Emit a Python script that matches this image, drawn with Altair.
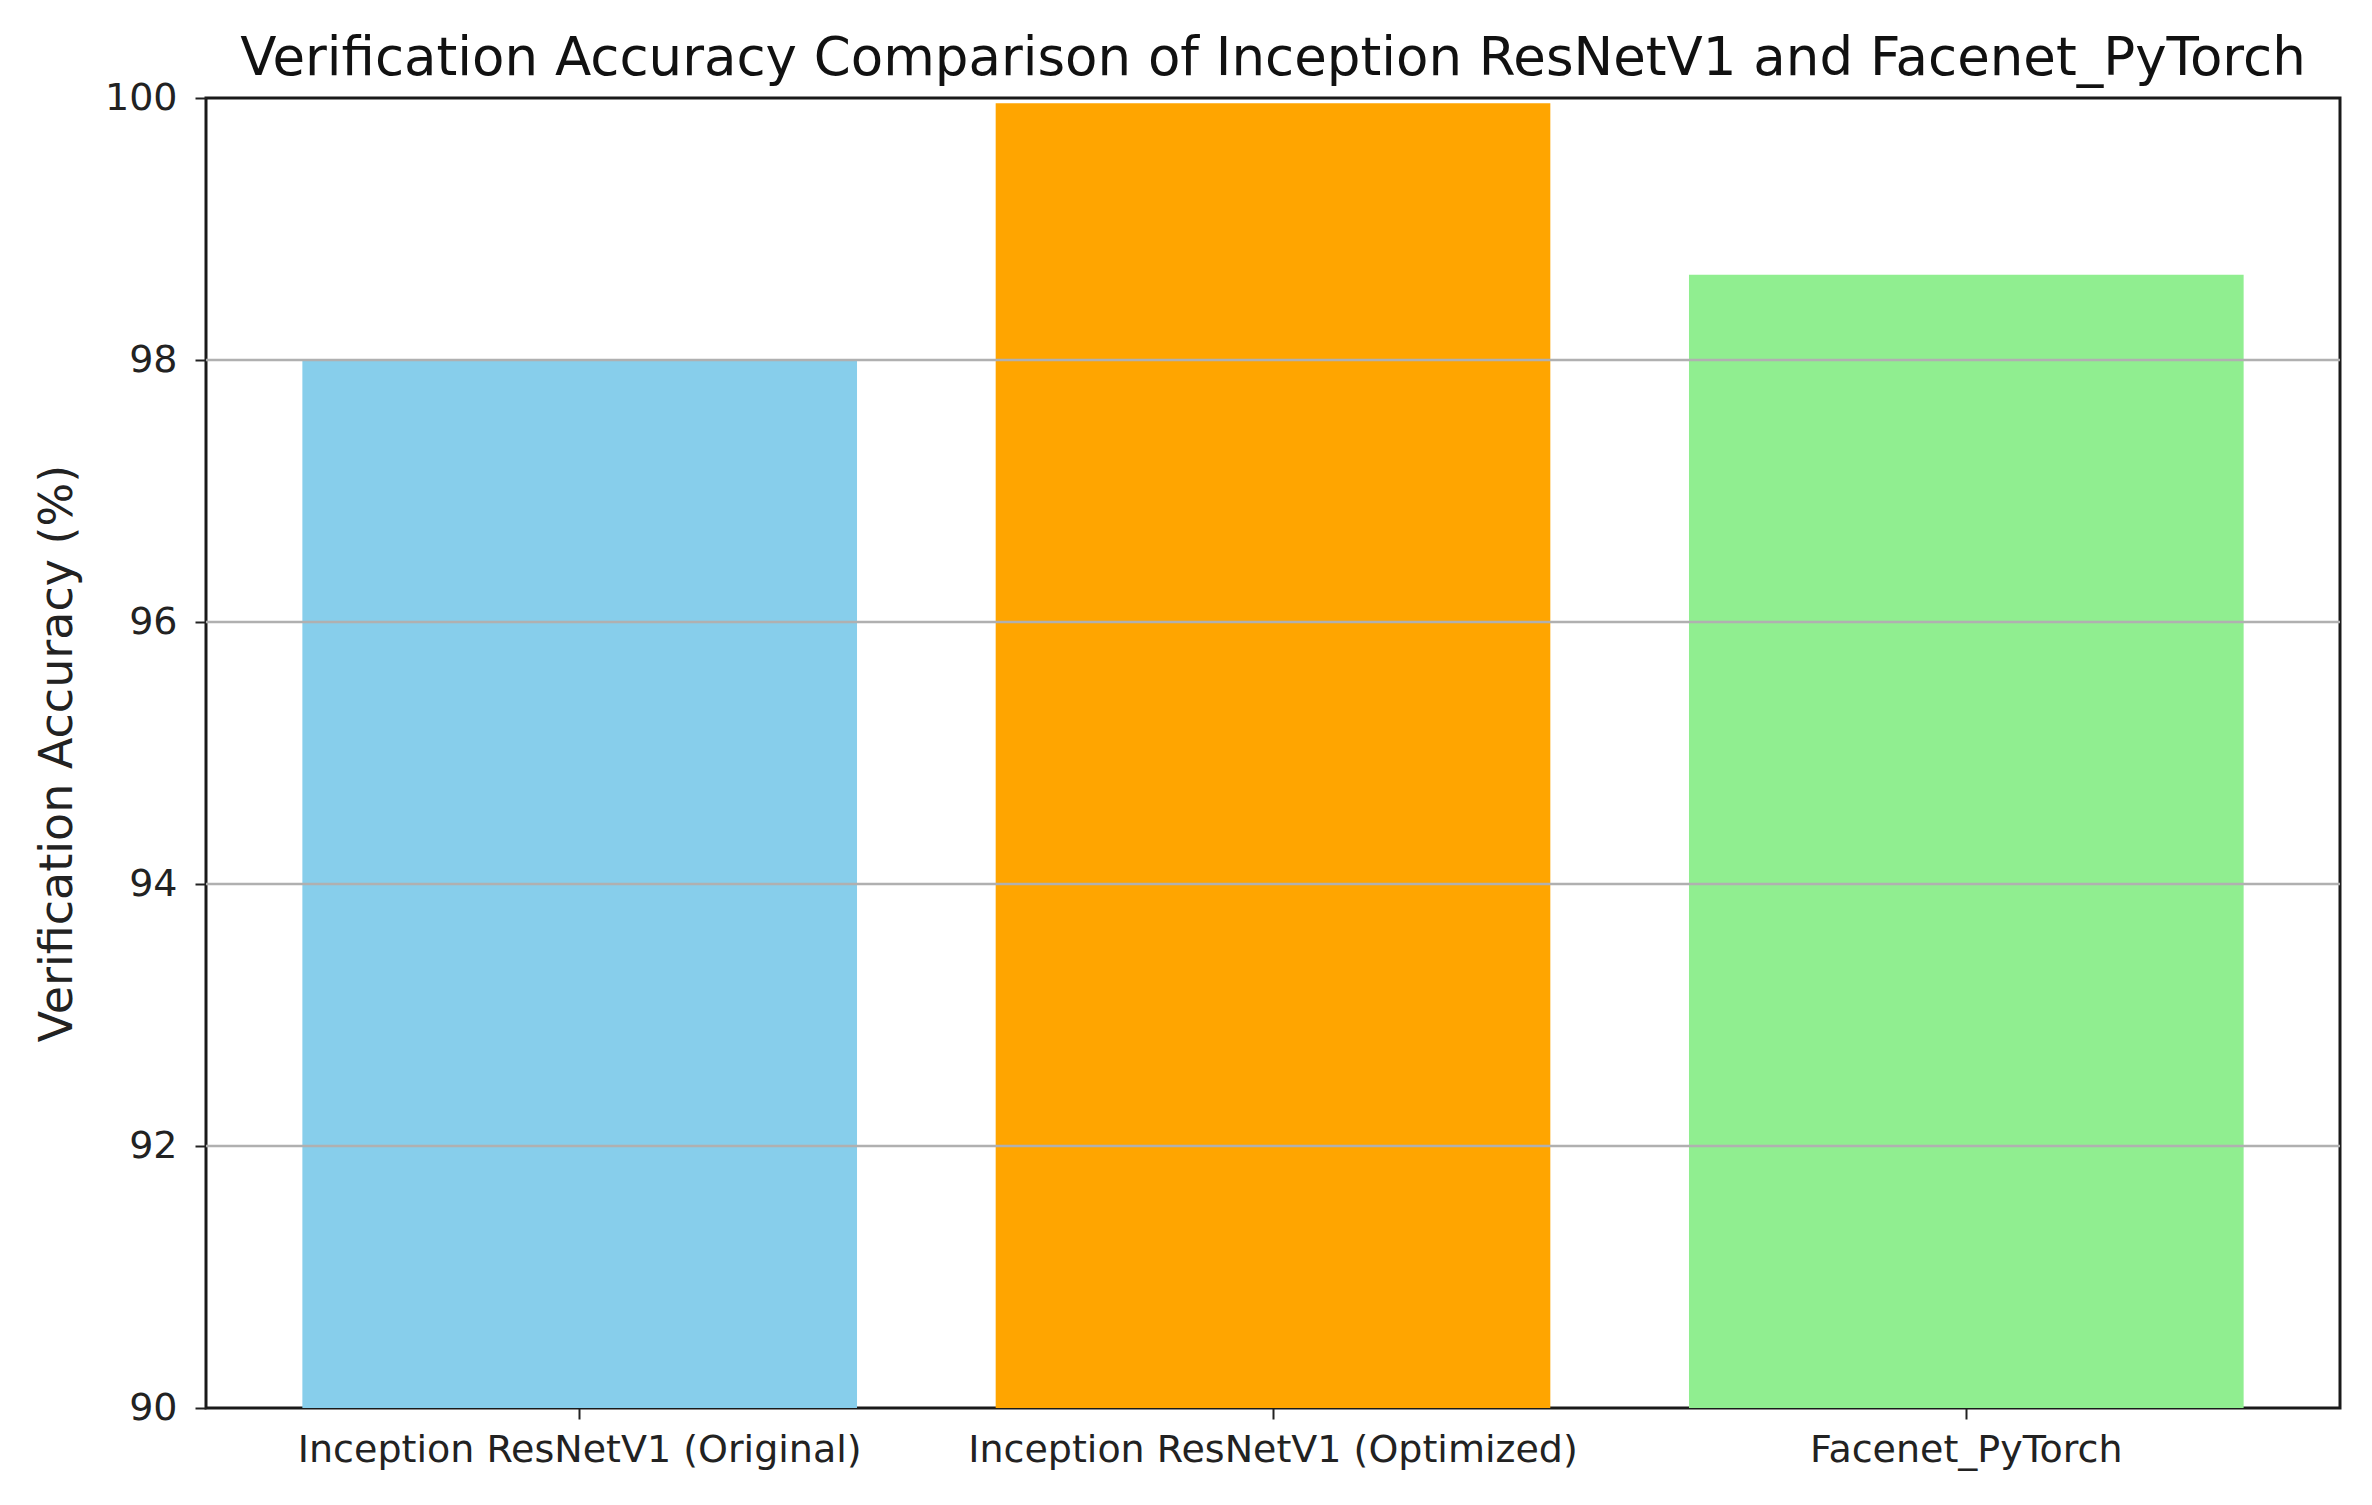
import altair as alt
import pandas as pd

models = ["Inception ResNetV1 (Original)", "Inception ResNetV1 (Optimized)", "Facenet_PyTorch"]
accuracy = [98.0, 99.96, 98.65]
colors = ["#87CEEB", "#FFA500", "#90EE90"]
y_ticks = [90, 92, 94, 96, 98, 100]
grid_lines = [92, 94, 96, 98]

df = pd.DataFrame({"model": models, "accuracy": accuracy})
grid_df = pd.DataFrame({"tick": grid_lines})

font = "DejaVu Sans"

bars = alt.Chart(df).mark_bar(clip=True).encode(
    x=alt.X("model:N", sort=models,
            scale=alt.Scale(paddingInner=0.2, paddingOuter=0.139),
            axis=alt.Axis(title=None, labelAngle=0, labelFont=font, labelFontSize=38,
                          labelLimit=0, labelColor="#222", tickColor="#222", tickSize=11,
                          tickWidth=2, labelPadding=12, domain=False, grid=False)),
    y=alt.Y("accuracy:Q",
            scale=alt.Scale(domain=[90, 100], zero=False, nice=False),
            axis=alt.Axis(title="Verification Accuracy (%)", values=y_ticks, format="d",
                          titleFont=font, titleFontSize=46, titleFontWeight="normal",
                          titleColor="#222", titleX=-149, titleBaseline="middle",
                          labelFont=font, labelFontSize=38, labelColor="#222",
                          tickColor="#222", tickSize=11, tickWidth=2, labelPadding=18,
                          grid=False, domain=False)),
    color=alt.Color("model:N", sort=models,
                    scale=alt.Scale(domain=models, range=colors), legend=None),
)

grid = alt.Chart(grid_df).mark_rule(color="#b0b0b0", strokeWidth=2.5).encode(
    y=alt.Y("tick:Q")
)

chart = alt.layer(bars, grid).properties(
    width=2134,
    height=1310,
    background="white",
    title=alt.TitleParams("Verification Accuracy Comparison of Inception ResNetV1 and Facenet_PyTorch",
                          font=font, fontSize=53, fontWeight="normal", color="#111",
                          anchor="middle", offset=-7),
    autosize=alt.AutoSizeParams(type="none"),
    padding={"left": 198, "top": 90, "right": 16, "bottom": 80},
).configure_view(
    stroke="#1a1a1a", strokeWidth=3
)

chart.save("out.html", embed_options={"renderer": "svg", "actions": False})
